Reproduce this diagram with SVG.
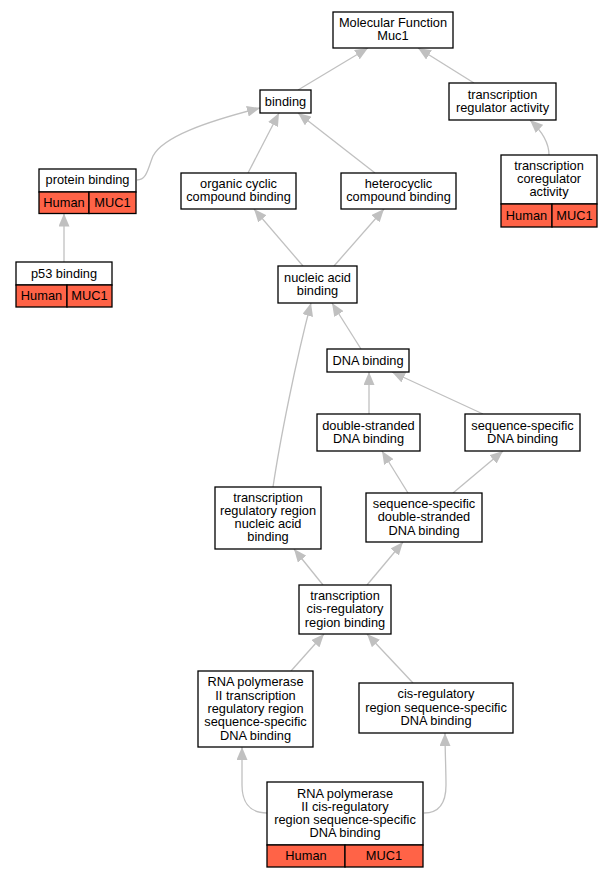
<svg xmlns="http://www.w3.org/2000/svg" width="613" height="877" viewBox="0 0 613 877">
<style>
.box{fill:#fff;stroke:#000;stroke-width:1.3}
.red{fill:#ff6347;stroke:#000;stroke-width:1.3}
text{font-family:"Liberation Sans",Arial,sans-serif;font-size:12.8px;fill:#000;text-anchor:middle}
.e{fill:none;stroke:#c0c0c0;stroke-width:1.3;marker-end:url(#ah)}
</style>
<defs>
<marker id="ah" viewBox="0 0 13 11" refX="13" refY="5.5" markerWidth="13" markerHeight="11" markerUnits="userSpaceOnUse" orient="auto">
<path d="M0,0 L13,5.5 L0,11 z" fill="#c0c0c0"/>
</marker>
</defs>
<rect width="613" height="877" fill="#fff"/>
<g id="edges">
<path class="e" d="M298,90 L368,48"/>
<path class="e" d="M474,83 L418,48"/>
<path class="e" d="M137,180 C147,180 148,168 153,156 C163,137 205,122 260,108"/>
<path class="e" d="M248,173 L279,113"/>
<path class="e" d="M375,173 L298,113"/>
<path class="e" d="M549,155 C549,145 545,134 530,120"/>
<path class="e" d="M64,262 L64,213.5"/>
<path class="e" d="M303,266 L254,209"/>
<path class="e" d="M334,266 L384,209"/>
<path class="e" d="M361,349 L332,303"/>
<path class="e" d="M369,414 L369,372"/>
<path class="e" d="M483,414 L392,372"/>
<path class="e" d="M273,487 C280,440 296,360 311,303"/>
<path class="e" d="M408,493 L382,451"/>
<path class="e" d="M453,493 L503,451"/>
<path class="e" d="M323,585 L294,549"/>
<path class="e" d="M367,585 L403,542"/>
<path class="e" d="M291,671 L324,634"/>
<path class="e" d="M413,683 L367,634"/>
<path class="e" d="M267,813 C248,813 242,800 242,785 L242,747"/>
<path class="e" d="M424,813 C440,813 446,802 446,785 C446,770 445,750 445,733"/>
</g>
<g id="mf">
<rect class="box" x="333" y="12" width="120" height="36"/>
<text x="393" y="26.6">Molecular Function</text>
<text x="393" y="39.9">Muc1</text>
</g>
<g id="binding">
<rect class="box" x="260" y="90" width="51" height="23"/>
<text x="285.5" y="105.5">binding</text>
</g>
<g id="tra">
<rect class="box" x="449" y="83" width="107" height="37"/>
<text x="502.5" y="98.5">transcription</text>
<text x="502.5" y="111.8">regulator activity</text>
</g>
<g id="protein">
<rect class="box" x="39" y="169" width="97" height="23"/>
<rect class="red" x="39" y="192" width="50" height="21.5"/>
<rect class="red" x="89" y="192" width="47" height="21.5"/>
<text x="87.5" y="184">protein binding</text>
<text x="64" y="207">Human</text>
<text x="112.5" y="207">MUC1</text>
</g>
<g id="organic">
<rect class="box" x="181" y="173" width="115" height="36"/>
<text x="238.5" y="187.8">organic cyclic</text>
<text x="238.5" y="201.1">compound binding</text>
</g>
<g id="hetero">
<rect class="box" x="341" y="173" width="115" height="36"/>
<text x="398.5" y="187.8">heterocyclic</text>
<text x="398.5" y="201.1">compound binding</text>
</g>
<g id="coreg">
<rect class="box" x="501" y="155" width="96" height="49"/>
<rect class="red" x="501" y="204" width="51" height="23"/>
<rect class="red" x="552" y="204" width="45" height="23"/>
<text x="549" y="169.7">transcription</text>
<text x="549" y="183">coregulator</text>
<text x="549" y="196.3">activity</text>
<text x="526.5" y="219.5">Human</text>
<text x="574.5" y="219.5">MUC1</text>
</g>
<g id="p53">
<rect class="box" x="16" y="262" width="96" height="23"/>
<rect class="red" x="16" y="285" width="51" height="22"/>
<rect class="red" x="67" y="285" width="45" height="22"/>
<text x="64" y="277.5">p53 binding</text>
<text x="41.5" y="300">Human</text>
<text x="89.5" y="300">MUC1</text>
</g>
<g id="nucleic">
<rect class="box" x="278" y="266" width="79" height="37"/>
<text x="317.5" y="281.5">nucleic acid</text>
<text x="317.5" y="294.8">binding</text>
</g>
<g id="dna">
<rect class="box" x="327" y="349" width="82" height="23"/>
<text x="368" y="364.5">DNA binding</text>
</g>
<g id="ds">
<rect class="box" x="317" y="414" width="103" height="37"/>
<text x="368.5" y="429.5">double-stranded</text>
<text x="368.5" y="442.8">DNA binding</text>
</g>
<g id="ssdna">
<rect class="box" x="465" y="414" width="115" height="37"/>
<text x="522.5" y="429.5">sequence-specific</text>
<text x="522.5" y="442.8">DNA binding</text>
</g>
<g id="trr">
<rect class="box" x="215" y="487" width="106" height="62"/>
<text x="268" y="501.5">transcription</text>
<text x="268" y="514.8">regulatory region</text>
<text x="268" y="528.1">nucleic acid</text>
<text x="268" y="541.4">binding</text>
</g>
<g id="ssds">
<rect class="box" x="366" y="493" width="116" height="49"/>
<text x="424" y="508">sequence-specific</text>
<text x="424" y="521.3">double-stranded</text>
<text x="424" y="534.6">DNA binding</text>
</g>
<g id="tcis">
<rect class="box" x="299" y="585" width="92" height="49"/>
<text x="345" y="600">transcription</text>
<text x="345" y="613.3">cis-regulatory</text>
<text x="345" y="626.6">region binding</text>
</g>
<g id="rna2trr">
<rect class="box" x="198" y="671" width="115" height="76"/>
<text x="255.5" y="686.4">RNA polymerase</text>
<text x="255.5" y="699.7">II transcription</text>
<text x="255.5" y="713">regulatory region</text>
<text x="255.5" y="726.3">sequence-specific</text>
<text x="255.5" y="739.6">DNA binding</text>
</g>
<g id="cisreg">
<rect class="box" x="359" y="683" width="154" height="50"/>
<text x="436" y="698.2">cis-regulatory</text>
<text x="436" y="711.5">region sequence-specific</text>
<text x="436" y="724.8">DNA binding</text>
</g>
<g id="rna2cis">
<rect class="box" x="267" y="782" width="156" height="63"/>
<rect class="red" x="267" y="845" width="78" height="22"/>
<rect class="red" x="345" y="845" width="78" height="22"/>
<text x="345" y="797.5">RNA polymerase</text>
<text x="345" y="810.8">II cis-regulatory</text>
<text x="345" y="824.1">region sequence-specific</text>
<text x="345" y="837.4">DNA binding</text>
<text x="306" y="860">Human</text>
<text x="384" y="860">MUC1</text>
</g>
</svg>
